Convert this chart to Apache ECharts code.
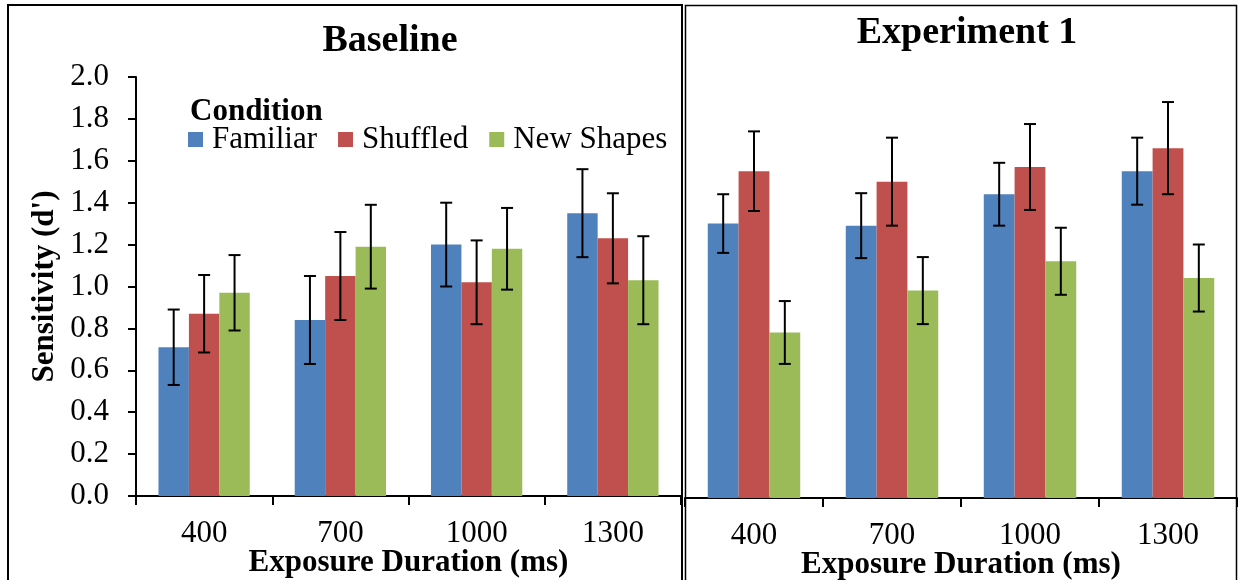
<!DOCTYPE html>
<html>
<head>
<meta charset="utf-8">
<script src="https://cdn.jsdelivr.net/npm/echarts@6/dist/echarts.min.js"></script>
<style>
html,body{margin:0;padding:0;background:#fff;}
#chart{width:1238px;height:580px;}
</style>
</head>
<body>
<div id="chart"></div>
<script>
const categories = ['400', '700', '1000', '1300'];
const seriesNames = ['Familiar', 'Shuffled', 'New Shapes'];
const yTicks = [0, 2, 0.2];

const baselineFamiliar = [0.71, 0.84, 1.20, 1.35];
const baselineFamiliarErr = [0.18, 0.21, 0.20, 0.21];
const baselineShuffled = [0.87, 1.05, 1.02, 1.23];
const baselineShuffledErr = [0.185, 0.21, 0.20, 0.215];
const baselineNew = [0.97, 1.19, 1.18, 1.03];
const baselineNewErr = [0.18, 0.20, 0.195, 0.21];

const exp1Familiar = [1.31, 1.30, 1.45, 1.56];
const exp1FamiliarErr = [0.14, 0.155, 0.15, 0.16];
const exp1Shuffled = [1.56, 1.51, 1.58, 1.67];
const exp1ShuffledErr = [0.19, 0.21, 0.205, 0.22];
const exp1New = [0.79, 0.99, 1.13, 1.05];
const exp1NewErr = [0.15, 0.16, 0.16, 0.16];

const colors = ['#4F81BD', '#C0504D', '#9BBB59'];
const FONT = '"Liberation Serif", "Times New Roman", serif';
const GAP = 0.33;

const panels = [
  { vals: [baselineFamiliar, baselineShuffled, baselineNew], errs: [baselineFamiliarErr, baselineShuffledErr, baselineNewErr] },
  { vals: [exp1Familiar, exp1Shuffled, exp1New], errs: [exp1FamiliarErr, exp1ShuffledErr, exp1NewErr] }
];

function errRenderer(k) {
  return function (params, api) {
    const cat = api.value(0), v = api.value(1), e = api.value(2);
    const base = api.coord([cat, v]);
    const band = api.size([1, 0])[0];
    const bw = band * (1 - GAP) / 3;
    const x = base[0] + (k - 1) * bw;
    const hi = api.coord([cat, v + e])[1];
    const lo = api.coord([cat, v - e])[1];
    const cap = 6;
    const st = { stroke: '#000', lineWidth: 2 };
    return {
      type: 'group',
      children: [
        { type: 'line', shape: { x1: x, y1: hi, x2: x, y2: lo }, style: st },
        { type: 'line', shape: { x1: x - cap, y1: hi, x2: x + cap, y2: hi }, style: st },
        { type: 'line', shape: { x1: x - cap, y1: lo, x2: x + cap, y2: lo }, style: st }
      ]
    };
  };
}

const series = [];
panels.forEach((p, pi) => {
  p.vals.forEach((arr, k) => {
    series.push({
      type: 'bar', name: seriesNames[k], xAxisIndex: pi, yAxisIndex: pi,
      data: arr, barGap: '0%', barCategoryGap: (GAP * 100) + '%',
      itemStyle: { color: colors[k] }, emphasis: { disabled: true }, animation: false
    });
  });
  p.vals.forEach((arr, k) => {
    series.push({
      type: 'custom', name: seriesNames[k], xAxisIndex: pi, yAxisIndex: pi,
      renderItem: errRenderer(k), z: 10, animation: false,
      encode: { x: 0, y: 1 },
      data: arr.map((v, i) => [i, v, p.errs[k][i]])
    });
  });
});

const xAxisCommon = {
  type: 'category', data: categories,
  axisLine: { lineStyle: { color: '#000', width: 2 } },
  axisTick: { show: true, length: 9, lineStyle: { color: '#000', width: 2 } },
  axisLabel: { color: '#000', fontFamily: FONT, fontSize: 31, margin: 22 },
  name: 'Exposure Duration (ms)', nameLocation: 'middle', nameGap: 51, nameMoveOverlap: false,
  nameTextStyle: { color: '#000', fontFamily: FONT, fontSize: 31, fontWeight: 'bold' }
};

const option = {
  backgroundColor: '#fff',
  animation: false,
  grid: [
    { left: 136, right: 557, top: 77, bottom: 84, outerBoundsMode: 'none', containLabel: false },
    { left: 685, right: 1, top: 79, bottom: 82, outerBoundsMode: 'none', containLabel: false }
  ],
  xAxis: [
    Object.assign({ gridIndex: 0 }, xAxisCommon),
    Object.assign({ gridIndex: 1 }, xAxisCommon)
  ],
  yAxis: [
    {
      type: 'value', gridIndex: 0, min: yTicks[0], max: yTicks[1], interval: yTicks[2],
      splitLine: { show: false },
      axisLine: { show: true, lineStyle: { color: '#000', width: 2 } },
      axisTick: { show: true, length: 8, lineStyle: { color: '#000', width: 2 } },
      axisLabel: { color: '#000', fontFamily: FONT, fontSize: 31, margin: 27, formatter: v => v.toFixed(1) },
      name: "Sensitivity (d')", nameLocation: 'middle', nameGap: 76, nameRotate: 90, nameMoveOverlap: false,
      nameTextStyle: { color: '#000', fontFamily: FONT, fontSize: 31, fontWeight: 'bold' }
    },
    {
      type: 'value', gridIndex: 1, min: yTicks[0], max: yTicks[1], interval: yTicks[2],
      splitLine: { show: false },
      axisLine: { show: false }, axisTick: { show: false }, axisLabel: { show: false }
    }
  ],
  legend: {
    data: seriesNames, left: 188, top: 124, padding: 0,
    icon: 'rect', itemWidth: 15, itemHeight: 15, itemGap: 21,
    selectedMode: false,
    textStyle: { color: '#000', fontFamily: FONT, fontSize: 31, padding: [0, 0, 0, 4] }
  },
  graphic: [
    { type: 'rect', shape: { x: 8, y: 5, width: 674, height: 620 }, style: { fill: 'none', stroke: '#000', lineWidth: 2 }, z: 100 },
    { type: 'rect', shape: { x: 685.5, y: 5.5, width: 551, height: 620 }, style: { fill: 'none', stroke: '#000', lineWidth: 1.5 }, z: 100 },
    { type: 'text', x: 390, y: 41, style: { text: 'Baseline', font: 'bold 38px ' + FONT, fill: '#000', textAlign: 'center', textVerticalAlign: 'middle' }, z: 100 },
    { type: 'text', x: 967, y: 33, style: { text: 'Experiment 1', font: 'bold 38px ' + FONT, fill: '#000', textAlign: 'center', textVerticalAlign: 'middle' }, z: 100 },
    { type: 'text', x: 190, y: 112, style: { text: 'Condition', font: 'bold 31px ' + FONT, fill: '#000', textAlign: 'left', textVerticalAlign: 'middle' }, z: 100 }
  ],
  series: series
};

const chart = echarts.init(document.getElementById('chart'), null, { renderer: 'canvas' });
chart.setOption(option);
</script>
</body>
</html>
